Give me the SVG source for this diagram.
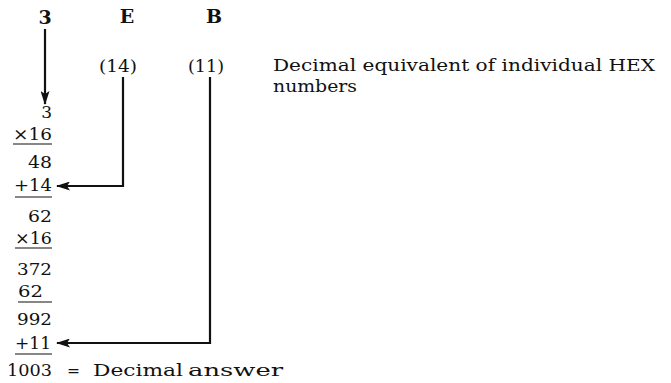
<svg xmlns="http://www.w3.org/2000/svg" width="671" height="383" viewBox="0 0 671 383">
<style>
text{font-family:'DejaVu Serif','Liberation Serif',serif;font-size:17px;fill:#111}
.b{font-weight:bold;font-size:19px}
.n{text-anchor:end}
.c{text-anchor:middle}
.u{stroke:#111;stroke-width:1.2;fill:none}
.ln{stroke:#111;stroke-width:2.2;fill:none}
</style>
<defs>
<marker id="ah" viewBox="0 0 14 9" refX="13" refY="4.5" markerWidth="14" markerHeight="9" markerUnits="userSpaceOnUse" orient="auto">
<path d="M0,0 L14,4.5 L0,9 L3,4.5 Z" fill="#111"/>
</marker>
</defs>
<g id="header">
<text class="c b" x="45" y="24">3</text>
<text class="c b" x="127" y="23">E</text>
<text class="c b" x="214" y="23">B</text>
<text class="c" x="118" y="72" textLength="38" lengthAdjust="spacingAndGlyphs">(14)</text>
<text class="c" x="206" y="72" textLength="36" lengthAdjust="spacingAndGlyphs">(11)</text>
</g>
<g id="note">
<text x="273" y="71" font-size="16" textLength="382" lengthAdjust="spacingAndGlyphs">Decimal equivalent of individual HEX</text>
<text x="273" y="92" font-size="16" textLength="84" lengthAdjust="spacingAndGlyphs">numbers</text>
</g>
<g id="column">
<text class="n" x="52" y="118">3</text>
<text class="n" x="52" y="140" textLength="39" lengthAdjust="spacingAndGlyphs">×16</text>
<line class="u" x1="13" y1="144" x2="52" y2="144"/>
<text class="n" x="52" y="168" textLength="24" lengthAdjust="spacingAndGlyphs">48</text>
<text class="n" x="52" y="191" textLength="38" lengthAdjust="spacingAndGlyphs">+14</text>
<line class="u" x1="15" y1="197" x2="52" y2="197"/>
<text class="n" x="52" y="222" textLength="24" lengthAdjust="spacingAndGlyphs">62</text>
<text class="n" x="52" y="244" textLength="37" lengthAdjust="spacingAndGlyphs">×16</text>
<line class="u" x1="15" y1="248" x2="52" y2="248"/>
<text class="n" x="52" y="275" textLength="35" lengthAdjust="spacingAndGlyphs">372</text>
<text class="n" x="43" y="297" textLength="25" lengthAdjust="spacingAndGlyphs">62</text>
<line class="u" x1="18" y1="302" x2="52" y2="302"/>
<text class="n" x="52" y="325" textLength="35" lengthAdjust="spacingAndGlyphs">992</text>
<text class="n" x="51" y="349" textLength="36" lengthAdjust="spacingAndGlyphs">+11</text>
<line class="u" x1="15" y1="354" x2="52" y2="354"/>
</g>
<g id="answer">
<text x="7" y="376" textLength="45" lengthAdjust="spacingAndGlyphs">1003</text>
<text x="67" y="376" textLength="13" lengthAdjust="spacingAndGlyphs">=</text>
<text x="93" y="376" font-size="18" textLength="90" lengthAdjust="spacingAndGlyphs">Decimal</text>
<text x="188" y="376" font-size="18" textLength="95" lengthAdjust="spacingAndGlyphs">answer</text>
</g>
<g id="connectors">
<line class="ln" x1="45" y1="29" x2="45" y2="104" marker-end="url(#ah)"/>
<polyline class="ln" points="123,77 123,186 57,186" marker-end="url(#ah)"/>
<polyline class="ln" points="210,77 210,343 57,343" marker-end="url(#ah)"/>
</g>
</svg>
